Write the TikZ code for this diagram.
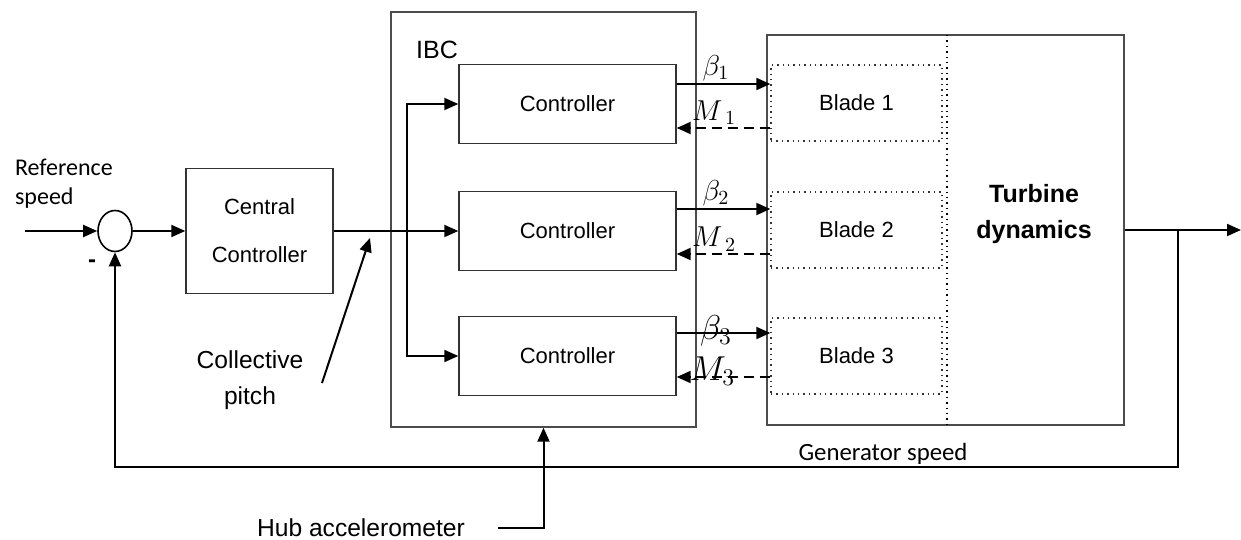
\documentclass[tikz,border=0pt]{standalone}
\usepackage{fontspec}
\setmainfont{Liberation Sans}
\newfontfamily\calfont{Carlito}
\usetikzlibrary{shapes.geometric, arrows.meta, positioning, calc}

\begin{document}
\begin{tikzpicture}[
  x=0.5pt, y=-0.5pt,
  blk/.style={rectangle, draw=black!80, line width=0.7pt, minimum width=108.5pt, minimum height=39.5pt, font=\fontsize{11}{13}\selectfont, align=center},
  bladebox/.style={rectangle, draw=black!80, dotted, line width=0.7pt, minimum width=85.5pt, minimum height=38pt, font=\fontsize{11}{13}\selectfont},
  frame/.style={rectangle, draw=black!70, line width=0.7pt},
  arr/.style={-{Triangle[length=7pt, width=6pt]}, line width=1pt},
  darr/.style={arr, dash pattern=on 5pt off 3pt},
  ln/.style={line width=1pt},
  lbl/.style={font=\fontsize{12.3}{18}\selectfont, align=center},
  cal/.style={font=\calfont\fontsize{12}{14.5}\selectfont, align=left},
  sig/.style={font=\fontsize{14}{14}\selectfont, inner sep=1pt},
]
\useasboundingbox (0,0) rectangle (1241,540);

% summing junction and central controller
\coordinate (in) at (25,231);
\node[ellipse, draw, line width=0.8pt, minimum width=17pt, minimum height=20.5pt, inner sep=0pt] (sum) at (115,231) {};
\node[cal, anchor=west] (refspd) at (8,184) {Reference\\speed};
\node[font=\bfseries\fontsize{12}{12}\selectfont] (minus) at (92,264) {-};
\node[blk, minimum width=73.5pt, minimum height=62.5pt, font=\fontsize{11}{24}\selectfont] (cc) at (259.5,231) {Central\\Controller};

% IBC
\node[frame, minimum width=152.5pt, minimum height=207.5pt] (ibc) at (543.5,219.5) {};
\node[font=\fontsize{12.5}{14}\selectfont] (ibclbl) at (437,50) {IBC};
\node[blk] (c1) at (567.5,104) {Controller};
\node[blk] (c2) at (567.5,231) {Controller};
\node[blk] (c3) at (567.5,356) {Controller};

% turbine
\node[frame, minimum width=178.5pt, minimum height=195pt] (turb) at (945.5,230) {};
\draw[dotted, line width=0.7pt] (947,35) -- (947,425);
\node[bladebox] (b1) at (856.5,103) {Blade 1};
\node[bladebox] (b2) at (856.5,230) {Blade 2};
\node[bladebox] (b3) at (856.5,356) {Blade 3};
\node[font=\bfseries\fontsize{12.5}{18}\selectfont, align=center] (tdyn) at (1034,214) {Turbine\\dynamics};

% main path
\draw[arr] (in) -- (sum.west);
\draw[arr] (sum.east) -- (cc.west);
\coordinate (split) at (407,231);
\draw[arr] (cc.east) -- (c2.west);
\draw[arr] (split) |- (c1.west);
\draw[arr] (split) |- (c3.west);

% pitch and moment signals
\draw[arr] ([yshift=10pt]c1.east) -- node[sig, above, pos=0.42]{$\beta_{1}$} ([yshift=10pt]c1.east -| b1.west);
\draw[darr] ([yshift=-12pt]c1.east -| b1.west) -- node[sig, above, pos=0.6]{$M_{\;1}$} ([yshift=-12pt]c1.east);
\draw[arr] ([yshift=11pt]c2.east) -- node[sig, above, pos=0.42]{$\beta_{2}$} ([yshift=11pt]c2.east -| b2.west);
\draw[darr] ([yshift=-11.5pt]c2.east -| b2.west) -- node[sig, above, pos=0.6]{$M_{\;2}$} ([yshift=-11.5pt]c2.east);
\draw[arr] ([yshift=11.5pt]c3.east) -- node[sig, pos=0.42, yshift=1pt, font=\fontsize{17}{17}\selectfont]{$\beta_{3}$} ([yshift=11.5pt]c3.east -| b3.west);
\draw[darr] ([yshift=-10.5pt]c3.east -| b3.west) -- node[sig, pos=0.62, yshift=3pt, font=\fontsize{17}{17}\selectfont]{$M_{3}$} ([yshift=-10.5pt]c3.east);

% output and feedback
\coordinate (out) at (1241,230);
\coordinate (br) at (1178,230);
\coordinate (fbend) at (1178,467);
\draw[arr] (turb.east) -- (out);
\draw[arr] (br) -- (fbend) -| (sum.south);
\node[font=\calfont\fontsize{12.4}{14}\selectfont] (genspd) at (883,454) {Generator speed};

% collective pitch
\node[lbl] (colp) at (250,380) {Collective\\pitch};
\coordinate (cptail) at (322,383);
\coordinate (cphead) at (370,238);
\draw[arr] (cptail) -- (cphead);

% hub accelerometer
\node[lbl] (hub) at (361,528) {Hub accelerometer};
\coordinate (hubst) at (498,528);
\draw[arr] (hubst) -| (ibc.south);
\end{tikzpicture}
\end{document}
